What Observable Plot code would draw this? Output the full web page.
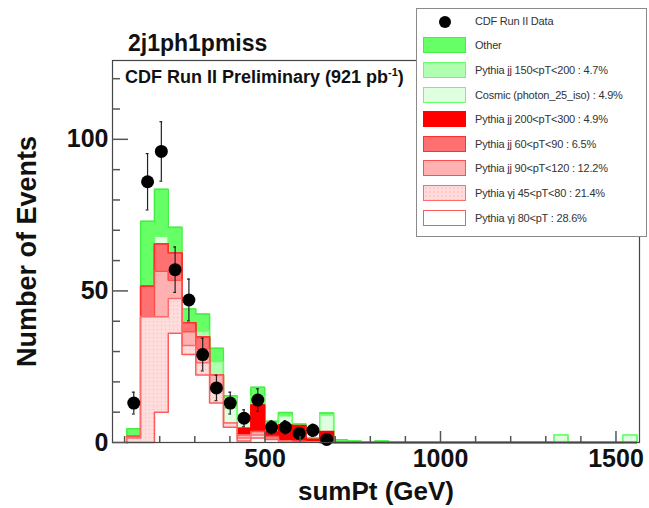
<!DOCTYPE html>
<html><head><meta charset="utf-8">
<script src="https://cdn.jsdelivr.net/npm/d3@7"></script>
<script src="https://cdn.jsdelivr.net/npm/@observablehq/plot@0.6"></script>
<style>
body{margin:0;background:#fff;}
#wrap{position:relative;width:649px;height:508px;overflow:hidden;font-family:"Liberation Sans",Arial,Helvetica,sans-serif;}
.ttl{position:absolute;white-space:nowrap;font-weight:bold;color:#111;}
#legend{position:absolute;left:416px;top:8px;width:229px;height:227px;border:1px solid #8a8a8a;background:#fff;}
.row{position:absolute;left:0;width:100%;height:0;}
.sw{position:absolute;left:6px;top:-9px;width:41px;height:14px;border:1.5px solid;}
.lt{position:absolute;left:58px;top:-7px;font-size:11px;line-height:13px;color:#333;white-space:nowrap;letter-spacing:-0.2px;}
.ld{position:absolute;left:22px;top:-6px;width:12px;height:12px;border-radius:50%;background:#000;}
</style></head><body><div id="wrap"></div>
<script>
// ---- binning (GeV) ----
const binStart = 106.5;
const binWidth = 39.26;
const nBins = 37;

// ---- stacked MC components, per bin (events), bottom of stack first ----
const gj80   = [0,0,10,36,29,22.3,13,5,0.5,1.5,1,0.5,0.3,0.1,0,0,0,0,0, 0,0,0,0,0,0,0,0,0,0,0,0,0,0,0,0,0,0];
const gj45   = [1.5,41.5,31.5,11.5,3,4,4,1.4,1,1,0.5,0,0,0,0,0,0,0,0, 0,0,0,0,0,0,0,0,0,0,0,0,0,0,0,0,0,0];
const jj90   = [0.5,0,15,6,4.5,4.5,5.3,0,1,1.1,0.5,0,0,0,0,0,0,0,0, 0,0,0,0,0,0,0,0,0,0,0,0,0,0,0,0,0,0];
const jj60   = [0,10,9,9,3,4,0,0,0,0,0,0,0,0,0,0,0,0,0, 0,0,0,0,0,0,0,0,0,0,0,0,0,0,0,0,0,0];
const jj200  = [0,0,0,0,0,0,0,0,2.2,8.8,1.5,5.3,5.3,1.0,3.6,0,0,0,0, 0,0,0,0,0,0,0,0,0,0,0,0,0,0,0,0,0,0];
const cosmic = [0,0,2.5,0,0,0,0,5,2.4,0,2,3,0,0,5.5,0,0,0,0, 0,0,0,0,0,0,0,0,0,0,0,0,2.5,0,0,0,0,2.5];
const jj150  = [0,0,0,0,0,2,4.4,3,2,2.8,1,0,0,0,0,0,0,0,0, 0,0,0,0,0,0,0,0,0,0,0,0,0,0,0,0,0,0];
const other  = [2.5,21.5,15.5,8.5,4.5,5.6,4.4,1,0,3,0.5,1.1,0.5,0.4,0.6,0.9,0.5,0,0.5, 0,0,0,0,0,0,0,0,0,0,0,0,0,0,0,0,0,0];

// ---- data points (first bins) ----
const dataCounts = [13,86,96,57,47,29,18,13,8,14,5,5,3,4,1];
const dataErrors = [3.6,9.3,9.8,7.5,6.9,5.4,4.2,3.6,2.8,3.7,2.2,2.2,1.7,2,1];

// ---- axes ----
const xDomain = [65.5, 1567];
const yDomain = [0, 126];
const xLabels = [500, 1000, 1500];
const xMinor = [100,200,300,400,600,700,800,900,1100,1200,1300,1400];
const yLabels = [0, 50, 100];
const yMinor = [10,20,30,40,60,70,80,90,110,120];

const legendNames = ["CDF Run II Data","Other","Pythia jj 150<pT<200 : 4.7%","Cosmic (photon_25_iso) : 4.9%",
  "Pythia jj 200<pT<300 : 4.9%","Pythia jj 60<pT<90 : 6.5%","Pythia jj 90<pT<120 : 12.2%",
  "Pythia γj 45<pT<80 : 21.4%","Pythia γj 80<pT : 28.6%"];

const layers = [
  {name: legendNames[8], values: gj80,   fill: "#ffffff",     stroke: "#ff5a5a"},
  {name: legendNames[7], values: gj45,   fill: "url(#dots)",  stroke: "#ff6a6a"},
  {name: legendNames[6], values: jj90,   fill: "#ffb0b0",     stroke: "#ff5050"},
  {name: legendNames[5], values: jj60,   fill: "#ff7070",     stroke: "#ff3030"},
  {name: legendNames[4], values: jj200,  fill: "#ff0000",     stroke: "#ff0000"},
  {name: legendNames[3], values: cosmic, fill: "#e0ffe0",     stroke: "#66ff66"},
  {name: legendNames[2], values: jj150,  fill: "#b0ffb0",     stroke: "#66ff66"},
  {name: legendNames[1], values: other,  fill: "#66ff66",     stroke: "#44ee44"}
];

let cum = new Array(nBins).fill(0);
const stacks = layers.map(L => { cum = cum.map((c, i) => c + L.values[i]); return {...L, top: cum.slice()}; });

function outline(top) {
  const pts = [{x: binStart, y: 0}];
  top.forEach((v, i) => {
    const a = binStart + i * binWidth;
    pts.push({x: a, y: v}, {x: a + binWidth, y: v});
  });
  pts.push({x: binStart + top.length * binWidth, y: 0});
  return pts;
}

const W = 649, H = 508, mL = 112, mR = 10, mT = 60, mB = 66;
const plotW = W - mL - mR, plotH = H - mT - mB;

const marks = [];
for (const s of stacks.slice().reverse()) {
  const pts = outline(s.top);
  marks.push(Plot.area(pts, {x1: "x", y1: () => 0, y2: "y", fill: s.fill}));
  marks.push(Plot.line(pts, {x: "x", y: "y", stroke: s.stroke, strokeWidth: 1.5}));
}

const pts = dataCounts.map((v, i) => ({x: binStart + (i + 0.5) * binWidth, y: v, e: dataErrors[i]}));
marks.push(
  Plot.ruleX(pts, {x: "x", y1: d => d.y - d.e, y2: d => d.y + d.e, stroke: "#222", strokeWidth: 1.2}),
  Plot.ruleY(pts, {y: d => d.y + d.e, x1: d => d.x - 4, x2: d => d.x + 4, stroke: "#222", strokeWidth: 1.2}),
  Plot.ruleY(pts, {y: d => d.y - d.e, x1: d => d.x - 4, x2: d => d.x + 4, stroke: "#222", strokeWidth: 1.2}),
  Plot.dot(pts, {x: "x", y: "y", r: 6.5, fill: "#000", stroke: "none"}),
  Plot.frame({stroke: "#444", strokeWidth: 1.2}),
  Plot.tickY(yLabels, {y: d => d, insetRight: plotW - 16, stroke: "#555", strokeWidth: 1.5}),
  Plot.tickY(yMinor, {y: d => d, insetRight: plotW - 8, stroke: "#555", strokeWidth: 1.5}),
  Plot.tickX(xLabels, {x: d => d, insetTop: plotH - 11, stroke: "#555", strokeWidth: 1.5}),
  Plot.tickX(xMinor, {x: d => d, insetTop: plotH - 6, stroke: "#555", strokeWidth: 1.5}),
  Plot.axisY(yLabels, {tickSize: 0, tickPadding: 4, fontSize: 25, fontWeight: "bold", label: null, tickFormat: d => `${d}`}),
  Plot.axisX(xLabels, {tickSize: 0, tickPadding: 7, fontSize: 25, fontWeight: "bold", label: null, tickFormat: d => `${d}`}),
  Plot.text(["sumPt (GeV)"], {frameAnchor: "bottom", dy: 57, lineAnchor: "bottom", textAnchor: "middle", fontSize: 26, fontWeight: "bold", fill: "#111"}),
  Plot.text(["Number of Events"], {frameAnchor: "left", dx: -85, rotate: -90, textAnchor: "middle", fontSize: 27, fontWeight: "bold", fill: "#111"})
);

const svg = Plot.plot({
  width: W, height: H,
  marginLeft: mL, marginRight: mR, marginTop: mT, marginBottom: mB,
  style: {fontFamily: '"Liberation Sans", Arial, Helvetica, sans-serif', color: "#111", background: "#fff"},
  x: {domain: xDomain, axis: null},
  y: {domain: yDomain, axis: null},
  marks
});

const ns = "http://www.w3.org/2000/svg";
const defs = document.createElementNS(ns, "defs");
defs.innerHTML = '<pattern id="dots" width="4" height="4" patternUnits="userSpaceOnUse"><rect width="4" height="4" fill="#ffdcdc"/><rect x="1" y="1" width="1" height="1" fill="#ffb4b4"/></pattern>';
svg.insertBefore(defs, svg.firstChild);

const wrap = document.getElementById("wrap");
wrap.appendChild(svg);

const title = document.createElement("div");
title.className = "ttl";
title.style.cssText = "left:128px;top:32px;font-size:23px;line-height:23px;";
title.textContent = "2j1ph1pmiss";
wrap.appendChild(title);

const sub = document.createElement("div");
sub.className = "ttl";
sub.style.cssText = "left:125px;top:68px;font-size:18px;line-height:18px;";
sub.innerHTML = 'CDF Run II Preliminary (921 pb<span style="font-size:11px;position:relative;top:-7px;">-1</span>)';
wrap.appendChild(sub);

// legend
const leg = document.createElement("div");
leg.id = "legend";
const legendEntries = [{dot: true}].concat(stacks.slice().reverse().map(s => ({fill: s.fill, stroke: s.stroke})));
legendEntries.forEach((e, i) => {
  const row = document.createElement("div");
  row.className = "row";
  row.style.top = (12.7 + 24.6 * i) + "px";
  if (e.dot) {
    const d = document.createElement("div"); d.className = "ld"; row.appendChild(d);
  } else {
    const sw = document.createElement("div"); sw.className = "sw";
    sw.style.borderColor = e.stroke;
    if (e.fill.startsWith("url")) {
      sw.style.background = "radial-gradient(circle, #ffb4b4 0.6px, transparent 0.8px) 0 0/4px 4px, #ffdcdc";
    } else sw.style.background = e.fill;
    row.appendChild(sw);
  }
  const t = document.createElement("div"); t.className = "lt"; t.textContent = legendNames[i];
  row.appendChild(t);
  leg.appendChild(row);
});
wrap.appendChild(leg);
</script></body></html>
